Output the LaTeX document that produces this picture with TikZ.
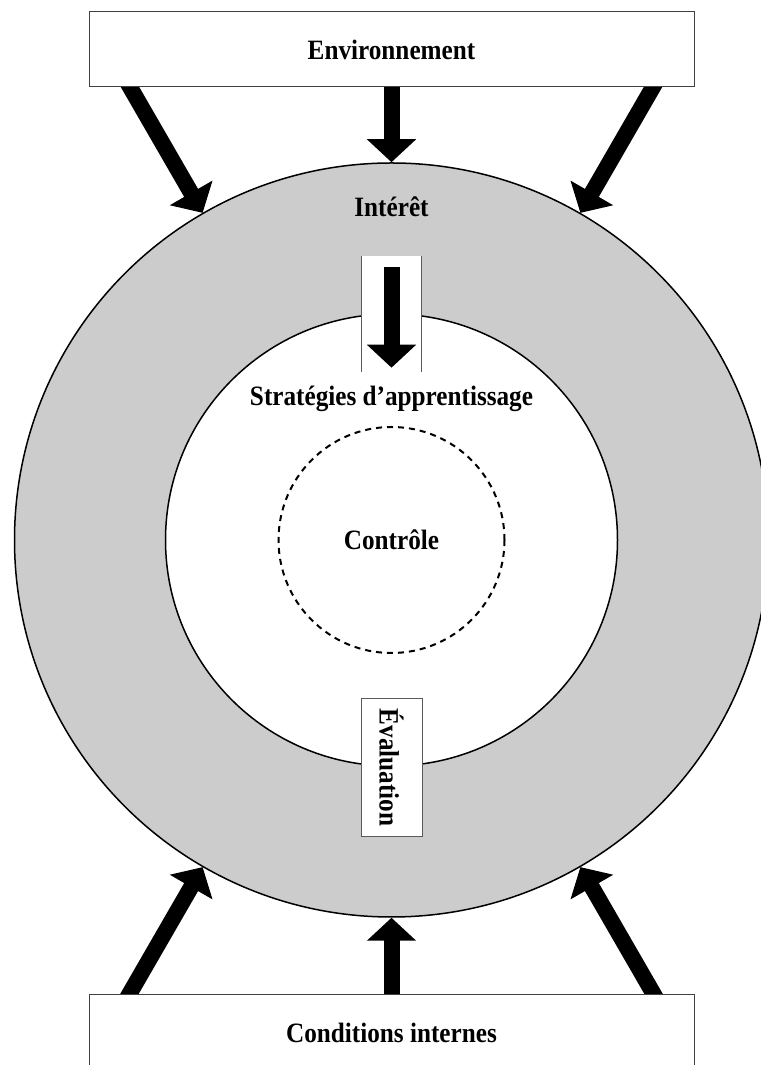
\documentclass[tikz,border=0pt]{standalone}
\usepackage{fontspec}
\setmainfont{Liberation Serif}
\newfontfamily\figfont{Liberation Serif}[FakeStretch=0.9, Ligatures=TeX]
\usetikzlibrary{arrows.meta, calc, positioning}
\definecolor{ringgray}{RGB}{204,204,204}
\definecolor{boxline}{RGB}{64,64,64}
\definecolor{slotline}{RGB}{90,90,90}
\tikzstyle{txt}=[font=\figfont\bfseries\fontsize{28}{32}\selectfont]
\tikzstyle{frame}=[draw=boxline, line width=1pt, fill=white, minimum width=605pt, minimum height=75pt, inner sep=0pt]
\tikzstyle{ring}=[circle, draw, line width=1.5pt, inner sep=0pt]
\tikzstyle{slot}=[fill=white, inner sep=0pt]
\tikzstyle{side}=[draw=slotline, line width=0.8pt]
\tikzstyle{arrow}=[line width=16pt, -{Triangle[width=48pt,length=23pt]}]

\begin{document}
\begin{tikzpicture}[x=1pt, y=1pt]
      \useasboundingbox (0,0) rectangle (760,1065);
      \coordinate (c) at (391.5,525);

      \node[ring, fill=ringgray, minimum size=754pt] (outer) at (c) {};
      \node[ring, fill=white, minimum size=452pt] (inner) at (c) {};
      \node[ring, txt, line width=2pt, dash pattern=on 6pt off 5pt, minimum size=226pt] (controle) at (c) {Contrôle};

      \node[txt, anchor=base] (interet) at (391.5,848) {Intérêt};
      \node[txt, anchor=base] (strategies) at (391.5,659) {Stratégies d'apprentissage};

      \node[slot, minimum width=60pt, minimum height=115pt] (slotTop) at (391.5,751) {};
      \draw[side] (slotTop.north west) -- (slotTop.south west);
      \draw[side] (slotTop.north east) -- (slotTop.south east);
      \draw[arrow] ([yshift=-11pt]slotTop.north) -- ([yshift=4pt]slotTop.south);

      \node[slot, side, txt, rotate=-90, minimum width=138pt, minimum height=61pt] (evaluation) at (391.5,297.5) {Évaluation};

      \coordinate (envW) at ($(c)+(120:535)$);
      \coordinate (envC) at ($(c)+(90:465)$);
      \coordinate (envE) at ($(c)+(60:535)$);
      \coordinate (condW) at ($(c)+(240:535)$);
      \coordinate (condC) at ($(c)+(270:465)$);
      \coordinate (condE) at ($(c)+(300:535)$);

      \draw[arrow] (envW) -- (outer.120);
      \draw[arrow] (envC) -- (outer.north);
      \draw[arrow] (envE) -- (outer.60);
      \draw[arrow] (condW) -- (outer.240);
      \draw[arrow] (condC) -- (outer.south);
      \draw[arrow] (condE) -- (outer.300);

      \node[frame, txt] (env) at (391.5,1015.5) {Environnement};
      \node[frame, txt] (cond) at (391.5,32.5) {Conditions internes};
\end{tikzpicture}
\end{document}
